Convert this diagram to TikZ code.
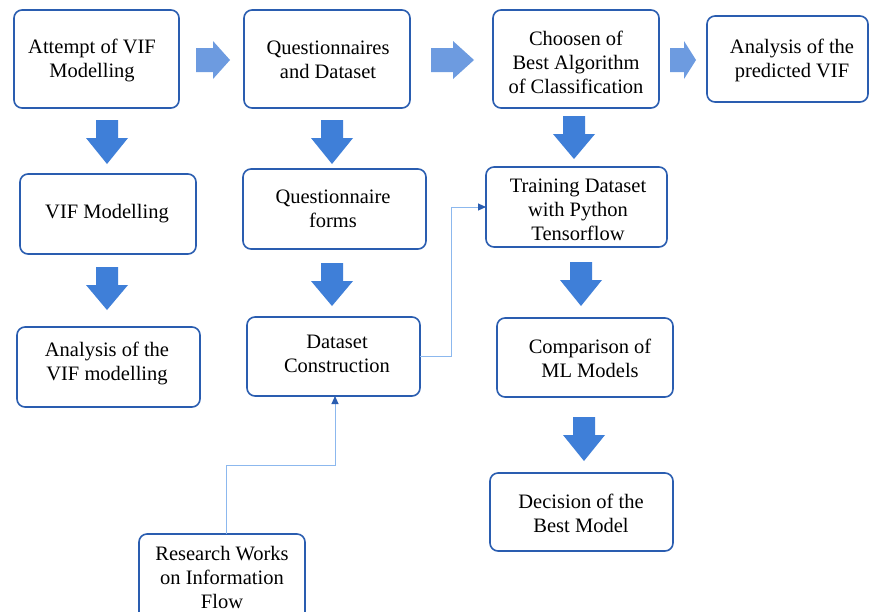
\documentclass[tikz,border=0pt]{standalone}
\usepackage{fontspec}
\IfFontExistsTF{LiberationSerif-Regular.ttf}
  {\setmainfont{LiberationSerif}[Extension=.ttf,UprightFont=*-Regular,BoldFont=*-Bold,ItalicFont=*-Italic,BoldItalicFont=*-BoldItalic]}
  {\setmainfont{Liberation Serif}}
\usetikzlibrary{arrows.meta,calc}
\definecolor{boxblue}{HTML}{2A5DB0}
\definecolor{darrow}{HTML}{3F7FD8}
\definecolor{larrow}{HTML}{6D9BE0}
\definecolor{lineblue}{HTML}{8CB8EE}
\tikzset{
  box/.style={draw=boxblue,line width=1.6pt,rounded corners=8pt,fill=white},
  lbl/.style={align=center,font=\fontsize{20.5}{24}\selectfont,inner sep=0pt},
  link/.style={draw=lineblue,line width=1pt,-{Triangle[length=8pt,width=7pt,color=boxblue]}},
}
% down arrow: centre x, top y, bottom y
\newcommand{\darr}[3]{%
  \fill[darrow] (#1-11,#2) -- (#1+11,#2) -- (#1+11,#2+18) -- (#1+21,#2+18) -- (#1,#3) -- (#1-21,#2+18) -- (#1-11,#2+18) -- cycle;}
% right arrow: left x, right x, centre y, head start x
\newcommand{\rarr}[4]{%
  \fill[larrow] (#1,#3-12) -- (#4,#3-12) -- (#4,#3-19) -- (#2,#3) -- (#4,#3+19) -- (#4,#3+12) -- (#1,#3+12) -- cycle;}
\begin{document}
\begin{tikzpicture}[x=1pt,y=-1pt]
\useasboundingbox (0,0) rectangle (869,611);
\fill[white] (0,0) rectangle (869,611);
% boxes
\path[box] (14,10) rectangle (179,108);
\node[lbl] (a1) at (92,60) {Attempt of VIF\\Modelling};
\path[box] (244,10) rectangle (410,108);
\node[lbl] (a2) at (328,60) {Questionnaires\\and Dataset};
\path[box] (493,10) rectangle (659,108);
\node[lbl] (a3) at (576,62) {Choosen of\\Best Algorithm\\of Classification};
\path[box] (707,16) rectangle (868,102);
\node[lbl] (a4) at (792,60) {Analysis of the\\predicted VIF};
\path[box] (20,174) rectangle (196,254);
\node[lbl] (b1) at (107,214) {VIF Modelling};
\path[box] (17,327) rectangle (200,407);
\node[lbl] (c1) at (107,363) {Analysis of the\\VIF modelling};
\path[box] (243,169) rectangle (426,249);
\node[lbl] (b2) at (333,209) {Questionnaire\\forms};
\path[box] (247,317) rectangle (420,396);
\node[lbl] (c2) at (337,354) {Dataset\\Construction};
\path[box] (486,167) rectangle (667,247);
\node[lbl] (b3) at (578,210) {Training Dataset\\with Python\\Tensorflow};
\path[box] (497,318) rectangle (673,397);
\node[lbl] (c3) at (590,358) {Comparison of\\ML Models};
\path[box] (490,473) rectangle (673,551);
\node[lbl] (d3) at (581,513) {Decision of the\\Best Model};
\path[box] (139,534) rectangle (305,625);
\node[lbl] (r) at (222,577) {Research Works\\on Information\\Flow};
% coordinates for connectors
\coordinate (c2e) at (420,356);
\coordinate (b3w) at (486,207);
\coordinate (rn) at (226,534);
\coordinate (c2s) at (335,396);
% block arrows
\rarr{196}{230}{60}{213}
\rarr{431}{474}{60}{453}
\rarr{670}{696}{60}{684}
\darr{107}{120}{164}
\darr{107}{267}{310}
\darr{332}{120}{164}
\darr{332}{263}{306}
\darr{574}{116}{159}
\darr{581}{262}{306}
\darr{584}{417}{461}
% connectors
\draw[link] (c2e) -| (451,207) -- (b3w);
\draw[link] (rn) |- (335,465) -- (c2s);
\end{tikzpicture}
\end{document}
